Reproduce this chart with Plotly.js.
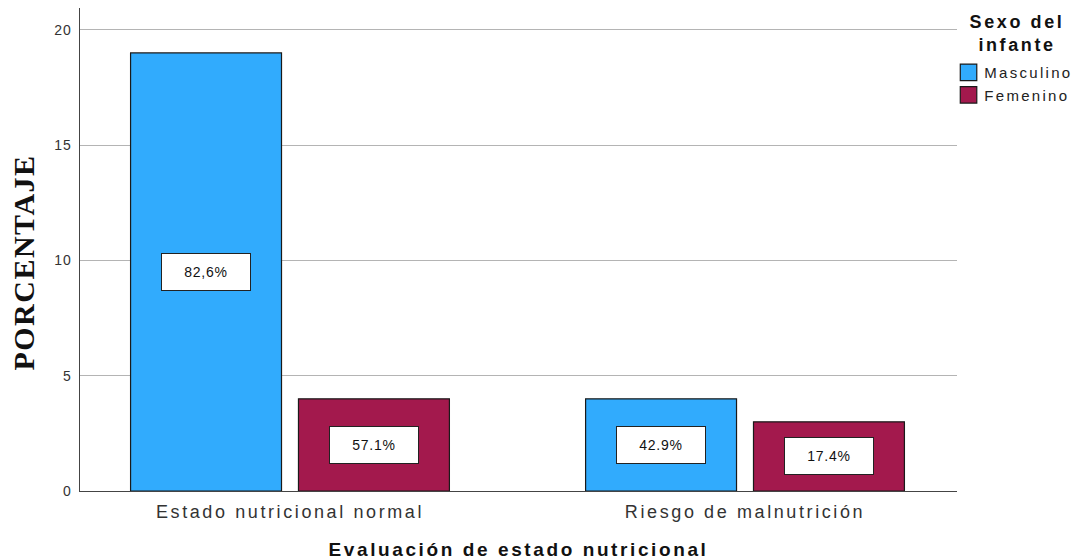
<!DOCTYPE html>
<html>
<head>
<meta charset="utf-8">
<script src="https://cdn.plot.ly/plotly-3.0.1.min.js"></script>
<style>
html,body{margin:0;padding:0;background:#fff}
#chart{width:1076px;height:560px}
#chart .xtick text{letter-spacing:2.6px}
#chart .ytick text{letter-spacing:1px}
#chart .g-xtitle text{letter-spacing:2.6px}
#chart .legendtext{letter-spacing:2.3px}
#chart .legend .scrollbox{clip-path:none !important}
#chart .annotation.legtitle text{letter-spacing:2.6px}
#chart .annotation.ytitle text{letter-spacing:1.5px}
#chart .annotation.lbl text{letter-spacing:0.8px}
</style>
</head>
<body>
<div id="chart"></div>
<script>
const categories = ["Estado nutricional normal", "Riesgo de malnutrición"];
const masculino = [19, 4];
const femenino = [4, 3];
const masculinoLabels = ["82,6%", "42.9%"];
const femeninoLabels = ["57.1%", "17.4%"];
const seriesNames = ["Masculino", "Femenino"];
const legendTitle = "Sexo del<br>infante";
const yTitle = "PORCENTAJE";
const xTitle = "Evaluación de estado nutricional";
const yTicks = [0, 5, 10, 15, 20];

const colors = ["#31abfd", "#a3194d"];

const traces = [
  {type: "bar", name: seriesNames[0], x: categories, y: masculino,
   marker: {color: colors[0], line: {color: "#1a1a1a", width: 1.2}}, hoverinfo: "none"},
  {type: "bar", name: seriesNames[1], x: categories, y: femenino,
   marker: {color: colors[1], line: {color: "#1a1a1a", width: 1.2}}, hoverinfo: "none"}
];

const annotations = [];
const annClasses = [];
function addLabels(vals, labels, xshift) {
  vals.forEach((v, i) => {
    annotations.push({
      x: categories[i], y: v / 2, xref: "x", yref: "y", text: labels[i], showarrow: false,
      xshift: xshift, bgcolor: "#ffffff", bordercolor: "#222", borderwidth: 1,
      width: 86, height: 34, font: {family: "Liberation Sans, Arial", size: 14, color: "#111"}
    });
    annClasses.push("lbl");
  });
}
addLabels(masculino, masculinoLabels, -84);
addLabels(femenino, femeninoLabels, 84);

annotations.push({
  xref: "paper", yref: "paper", x: 1.068, y: 0.947, xanchor: "center", yanchor: "middle",
  text: "<b>" + legendTitle + "</b>", showarrow: false, align: "center",
  font: {family: "Liberation Sans, Arial", size: 18, color: "#111"}
});
annClasses.push("legtitle");
annotations.push({
  xref: "paper", yref: "paper", x: -0.0644, y: 0.473, xanchor: "center", yanchor: "middle",
  text: "<b>" + yTitle + "</b>", showarrow: false, textangle: -90,
  font: {family: "Liberation Serif, Times New Roman", size: 30, color: "#111"}
});
annClasses.push("ytitle");

const layout = {
  width: 1076, height: 560,
  margin: {l: 80, r: 119, t: 8, b: 69},
  paper_bgcolor: "#ffffff", plot_bgcolor: "#ffffff",
  barmode: "group", bargap: 0.262, bargroupgap: 0.101,
  showlegend: true,
  font: {family: "Liberation Sans, Arial", color: "#333"},
  xaxis: {
    type: "category", range: [-0.4615, 1.4659],
    showgrid: false, showline: true, linecolor: "#444", linewidth: 1.3,
    ticks: "", ticklabelstandoff: 4, tickfont: {size: 18, color: "#333"},
    title: {text: "<b>" + xTitle + "</b>", font: {size: 19, color: "#111"}, standoff: 24}
  },
  yaxis: {
    range: [0, 20.95], tickvals: yTicks, ticktext: yTicks.map(String),
    showgrid: true, gridcolor: "#b4b4b4", gridwidth: 1,
    showline: true, linecolor: "#444", linewidth: 1.3, zeroline: false,
    ticks: "", ticklabelstandoff: 4, tickfont: {size: 14, color: "#333"}
  },
  legend: {
    x: 0.9855, xanchor: "left", y: 0.90, yanchor: "top",
    font: {size: 15, color: "#222"}, itemwidth: 30, tracegroupgap: 0,
    bgcolor: "rgba(0,0,0,0)"
  },
  annotations: annotations
};

Plotly.newPlot("chart", traces, layout, {displayModeBar: false, staticPlot: true}).then(gd => {
  const anns = gd.querySelectorAll(".annotation");
  anns.forEach((a, i) => { if (annClasses[i]) a.classList.add(annClasses[i]); });
  gd.querySelectorAll(".legendpoints path").forEach(p => p.setAttribute("d", "M12.5,8H-4V-8.5H12.5Z"));
});
</script>
</body>
</html>
